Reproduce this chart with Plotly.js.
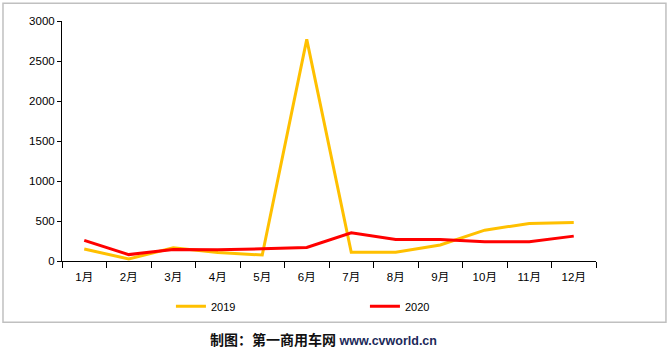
<!DOCTYPE html>
<html>
<head>
<meta charset="utf-8">
<script src="https://cdn.plot.ly/plotly-3.0.1.min.js"></script>
<style>
  html, body { margin: 0; padding: 0; background: #fff; }
  #chart { width: 670px; height: 350px; }
</style>
</head>
<body>
<div id="chart"></div>
<script>
const months = ["1月","2月","3月","4月","5月","6月","7月","8月","9月","10月","11月","12月"];
const values2019 = [150, 25, 165, 105, 75, 2770, 110, 110, 200, 385, 470, 480];
const values2020 = [258, 80, 145, 140, 153, 170, 352, 270, 270, 240, 240, 311];
const seriesNames = ["2019", "2020"];

const traces = [
  {
    x: months, y: values2019, name: seriesNames[0], type: "scatter", mode: "lines",
    line: { color: "#FFC000", width: 3 }
  },
  {
    x: months, y: values2020, name: seriesNames[1], type: "scatter", mode: "lines",
    line: { color: "#FF0000", width: 3 }
  }
];

const layout = {
  width: 670, height: 350,
  margin: { l: 62, r: 74, t: 20.7, b: 89.3, pad: 0 },
  paper_bgcolor: "#ffffff", plot_bgcolor: "#ffffff",
  font: { family: "Liberation Sans, Arial, Noto Sans CJK SC, sans-serif", size: 11, color: "#000" },
  showlegend: true,
  legend: {
    orientation: "h", x: 0.204, xanchor: "left", y: -0.189, yanchor: "middle",
    entrywidth: 149, entrywidthmode: "pixels",
    font: { size: 11, color: "#000" }, bgcolor: "rgba(0,0,0,0)"
  },
  xaxis: {
    type: "category", range: [-0.5, 11.5], tickson: "boundaries", ticks: "outside", ticklen: 6, tickcolor: "#000",
    ticklabelstandoff: 5,
    showline: true, linecolor: "#000", linewidth: 1, showgrid: false, zeroline: false,
    tickfont: { size: 11.5, color: "#000" }, fixedrange: true
  },
  yaxis: {
    range: [0, 3000], dtick: 500, ticks: "outside", ticklen: 4, tickcolor: "#000",
    showline: true, linecolor: "#000", linewidth: 1, showgrid: false, zeroline: false,
    tickfont: { size: 11.5, color: "#000" }, fixedrange: true
  },
  shapes: [
    {
      type: "rect", xref: "paper", yref: "paper",
      x0: -0.1105, x1: 1.131, y0: -0.2554, y1: 1.0737,
      line: { color: "#c0c0c0", width: 1.5 }, fillcolor: "rgba(0,0,0,0)", layer: "below"
    }
  ],
  annotations: [
    {
      xref: "paper", yref: "paper", x: 0.4897, y: -0.325, xanchor: "center", yanchor: "middle",
      showarrow: false,
      text: "<b>制图：第一商用车网<span style='color:#1c2a5a;font-family:Liberation Sans;font-size:12.5px'> www.cvworld.cn</span></b>",
      font: { family: "Noto Sans CJK SC, sans-serif", size: 14, color: "#111" }
    }
  ]
};

Plotly.newPlot("chart", traces, layout, { displayModeBar: false, staticPlot: true });
</script>
</body>
</html>
